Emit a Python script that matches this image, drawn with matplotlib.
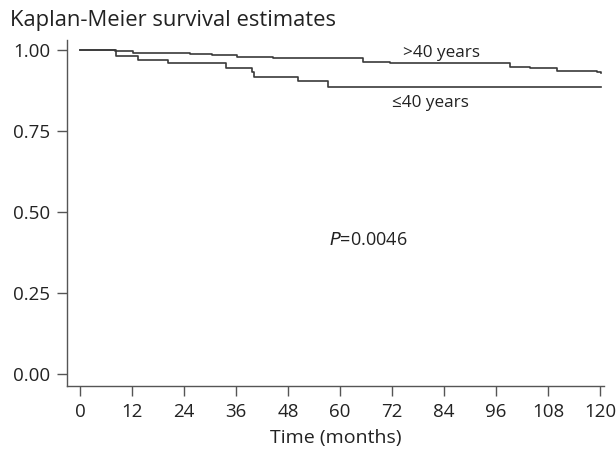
import matplotlib
matplotlib.use("Agg")
import matplotlib.pyplot as plt

# >40 years group
t_old = [0, 8.1, 12.2, 25.4, 30.5, 36.2, 44.5, 65.3, 71.5, 99.2, 103.8, 110.1, 119.3, 120.3]
s_old = [1.0, 0.995, 0.990, 0.987, 0.984, 0.979, 0.975, 0.962, 0.958, 0.948, 0.944, 0.935, 0.930, 0.927]
# <=40 years group
t_young = [0, 8.3, 13.4, 20.3, 33.7, 39.7, 40.2, 50.3, 57.2, 120.3]
s_young = [1.0, 0.98, 0.968, 0.958, 0.944, 0.93, 0.915, 0.902, 0.885, 0.885]

xticks = [0, 12, 24, 36, 48, 60, 72, 84, 96, 108, 120]
yticks = [0.0, 0.25, 0.5, 0.75, 1.0]
ytick_labels = ["0.00", "0.25", "0.50", "0.75", "1.00"]

plt.rcParams['font.family'] = ['Open Sans', 'DejaVu Sans']

fig = plt.figure(figsize=(6.16, 4.5), dpi=100)
ax = fig.add_axes([0.1083, 0.1422, 0.873, 0.769])
lc = "#3a3a3a"
ax.step(t_old, s_old, where="post", color=lc, lw=1.2)
ax.step(t_young, s_young, where="post", color=lc, lw=1.2)

ax.set_xlim(-3.1, 121)
ax.set_ylim(-0.037, 1.03)
ax.set_xticks(xticks)
ax.set_xticklabels([str(x) for x in xticks], fontsize=13.5)
ax.set_yticks(yticks)
ax.set_yticklabels(ytick_labels, fontsize=13.5)
for s in ["top", "right"]:
    ax.spines[s].set_visible(False)
for s in ["left", "bottom"]:
    ax.spines[s].set_color("#555555")
    ax.spines[s].set_linewidth(1.0)
ax.tick_params(direction="out", length=7, width=1, color="#555555", labelcolor="#222222", pad=5)
ax.set_xlabel("Time (months)", fontsize=14, color="#222222", labelpad=6)

ax.text(83.3, 0.977, ">40 years", fontsize=12.3, ha="center", va="baseline", color="#222222")
ax.text(80.8, 0.822, "≤40 years", fontsize=12.3, ha="center", va="baseline", color="#222222")
ax.text(66.5, 0.414, "$\\it{P}$=0.0046", fontsize=13, ha="center", va="center", color="#222222")
fig.text(0.016, 0.955, "Kaplan-Meier survival estimates", fontsize=15.8, ha="left", va="center", color="#222222")

fig.savefig("out.png", dpi=100, facecolor="white")
